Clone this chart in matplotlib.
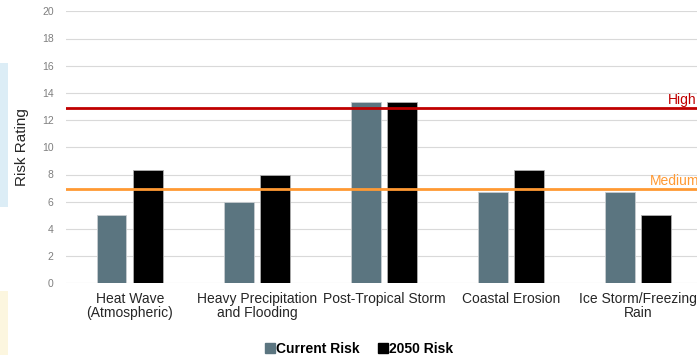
import numpy as np
import matplotlib
matplotlib.use("Agg")
import matplotlib.pyplot as plt
from matplotlib.lines import Line2D
from matplotlib.patches import Rectangle

plt.rcParams['font.family'] = ['Liberation Sans', 'DejaVu Sans']

hazards = ["Heat Wave\n(Atmospheric)", "Heavy Precipitation\nand Flooding",
           "Post-Tropical Storm", "Coastal Erosion", "Ice Storm/Freezing\nRain"]
current_risk = [5.0, 6.0, 13.35, 6.7, 6.7]
risk_2050 = [8.3, 8.0, 13.35, 8.3, 5.0]
high_level = 12.9
medium_level = 6.93
y_ticks = list(range(0, 21, 2))

CURRENT_COLOR = "#5B7580"
HIGH_COLOR = "#C00000"
MEDIUM_COLOR = "#FF9933"

fig = plt.figure(figsize=(6.97, 3.55), dpi=100)

# faint slide background peeking in at the left edge
fig.patches.append(Rectangle((0, 1 - 207 / 355), 8 / 697, 144 / 355, transform=fig.transFigure,
                             facecolor="#DCEDF6", edgecolor="none", zorder=0))
fig.patches.append(Rectangle((0, 0), 8 / 697, 64 / 355, transform=fig.transFigure,
                             facecolor="#FCF6DF", edgecolor="none", zorder=0))

ax = fig.add_axes([66.2 / 697, 1 - 283.3 / 355, 635.5 / 697, 272 / 355])

x = np.arange(len(hazards))
w = 0.234
off = 0.143
ax.bar(x - off, current_risk, w, color=CURRENT_COLOR, edgecolor="#C8CDD0", linewidth=0.6, zorder=2)
ax.bar(x + off, risk_2050, w, color="black", edgecolor="#B0B0B0", linewidth=0.6, zorder=2)

ax.axhline(high_level, color=HIGH_COLOR, linewidth=2, zorder=3)
ax.axhline(medium_level, color=MEDIUM_COLOR, linewidth=2, zorder=3)

ax.set_xlim(-0.5, len(hazards) - 0.5)
ax.set_ylim(0, 20)
ax.set_yticks(y_ticks)
ax.yaxis.grid(True, color="#D9D9D9", linewidth=0.8, zorder=0)
ax.set_axisbelow(True)
for s in ax.spines.values():
    s.set_visible(False)

ax.set_xticks(x)
ax.set_xticklabels(hazards, fontsize=10, color="#262626", linespacing=1.0)
ax.tick_params(axis="x", length=0, pad=6)
ax.tick_params(axis="y", length=0, pad=9, labelsize=7.5, labelcolor="#7F7F7F")
ax.set_ylabel("Risk Rating", fontsize=11, color="#262626", labelpad=9)

fig.text(668 / 697, 1 - 104 / 355, "High", color=HIGH_COLOR, fontsize=10, ha="left", va="baseline")
fig.text(650 / 697, 1 - 185 / 355, "Medium", color=MEDIUM_COLOR, fontsize=10, ha="left", va="baseline")

handles = [Line2D([], [], marker="s", linestyle="none", markersize=6.5, color=CURRENT_COLOR),
           Line2D([], [], marker="s", linestyle="none", markersize=6.5, color="black")]
fig.legend(handles, ["Current Risk", "2050 Risk"], loc="center", ncol=2,
           bbox_to_anchor=(359 / 697, 1 - 349 / 355), frameon=False,
           prop={"weight": "bold", "size": 10}, handlelength=0.7, handletextpad=0.1,
           columnspacing=1.3, borderpad=0)

fig.savefig("out.png", dpi=100)
